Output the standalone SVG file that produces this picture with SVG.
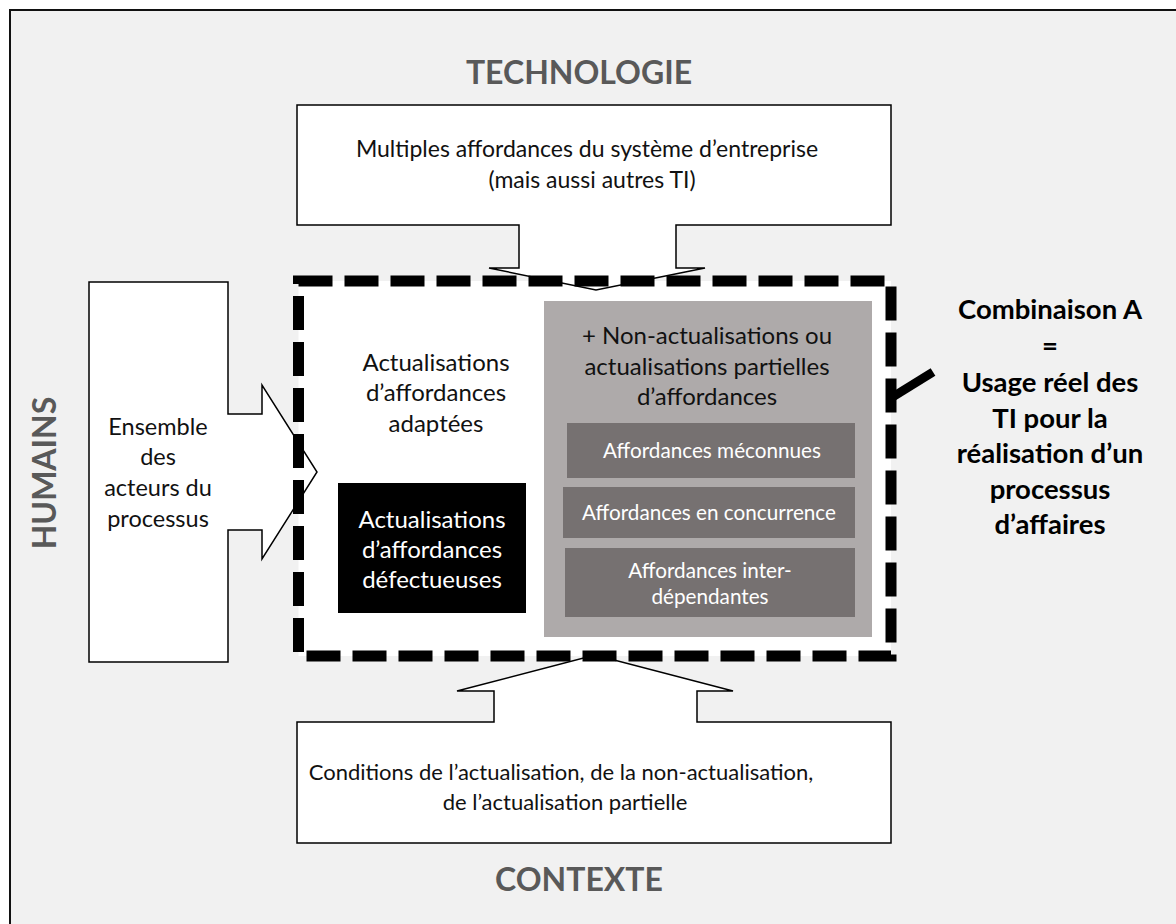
<svg xmlns="http://www.w3.org/2000/svg" width="1176" height="924" viewBox="0 0 1176 924">
<style>
.t{font-family:Lato,"Open Sans","Liberation Sans",sans-serif;font-size:23.5px;fill:#111;text-anchor:middle}
.w{font-family:Lato,"Open Sans","Liberation Sans",sans-serif;font-size:20.7px;fill:#fff;text-anchor:middle}
.wb{font-family:Lato,"Open Sans","Liberation Sans",sans-serif;font-size:24px;fill:#fff;text-anchor:middle}
.h{font-family:Lato,"Open Sans","Liberation Sans",sans-serif;font-size:32px;font-weight:bold;fill:#595959;text-anchor:middle}
.c{font-family:Lato,"Open Sans","Liberation Sans",sans-serif;font-size:27.5px;font-weight:bold;fill:#000;text-anchor:middle}
.arrow{fill:#fff;stroke:#000;stroke-width:1.5}
</style>
<rect x="0" y="0" width="1176" height="924" fill="#fff"/>
<rect x="10" y="10" width="1180" height="930" fill="#f1f1f1" stroke="#111" stroke-width="2"/>

<g id="tech-title"><text class="h" x="579" y="84">TECHNOLOGIE</text></g>
<g id="context-title"><text class="h" x="579" y="891">CONTEXTE</text></g>
<g id="humains-title"><text class="h" transform="translate(56,473) rotate(-90)" x="0" y="0">HUMAINS</text></g>

<g id="combination-area">
<rect x="298.5" y="281" width="592.5" height="375" fill="#fff"/>
</g>

<g id="technologie">
<path class="arrow" d="M297,105 H891 V225 H676 V268 H705 L596,290 L489,268 H519 V225 H297 Z"/>
<text class="t" x="587" y="157" style="font-size:23px">Multiples affordances du système d’entreprise</text>
<text class="t" x="592" y="188" style="font-size:23px">(mais aussi autres TI)</text>
</g>

<g id="contexte">
<path class="arrow" d="M297,722 H494 V691 H457 L595,655 L733,691 H697 V722 H891 V843 H297 Z"/>
<text class="t" x="561" y="780" style="font-size:22px">Conditions de l’actualisation, de la non-actualisation,</text>
<text class="t" x="565" y="810" style="font-size:22px">de l’actualisation partielle</text>
</g>

<g id="humains">
<path class="arrow" d="M89,282 H228 V414 H262 V385 L317,472 L262,559 V530 H228 V662 H89 Z"/>
<text class="t" x="158" y="435">Ensemble</text>
<text class="t" x="158" y="465">des</text>
<text class="t" x="158" y="496">acteurs du</text>
<text class="t" x="158" y="527">processus</text>
</g>

<g id="connectors">
<rect x="298.5" y="281" width="592.5" height="375" fill="none" stroke="#000" stroke-width="11" stroke-dasharray="34 12"/>
<line x1="891" y1="398" x2="933" y2="372" stroke="#000" stroke-width="9"/>
</g>

<g id="adaptees">
<text class="t" x="436" y="371" style="font-size:24px">Actualisations</text>
<text class="t" x="436" y="401" style="font-size:24px">d’affordances</text>
<text class="t" x="436" y="432" style="font-size:24px">adaptées</text>
</g>

<g id="defectueuses">
<rect x="338" y="483" width="188" height="130" fill="#000"/>
<text class="wb" x="432" y="528">Actualisations</text>
<text class="wb" x="432" y="558">d’affordances</text>
<text class="wb" x="432" y="588">défectueuses</text>
</g>

<g id="non-actualisations">
<rect x="544" y="301" width="328" height="336" fill="#aeaaaa"/>
<text class="t" x="707" y="344" style="font-size:24px">+ Non-actualisations ou</text>
<text class="t" x="707" y="375" style="font-size:24px">actualisations partielles</text>
<text class="t" x="707" y="405" style="font-size:24px">d’affordances</text>
</g>

<g id="meconnues">
<rect x="567" y="423" width="288" height="55" fill="#767171"/>
<text class="w" x="712" y="458">Affordances méconnues</text>
</g>
<g id="concurrence">
<rect x="563" y="487" width="292" height="51" fill="#767171"/>
<text class="w" x="709" y="520">Affordances en concurrence</text>
</g>
<g id="interdependantes">
<rect x="565" y="548" width="290" height="69" fill="#767171"/>
<text class="w" x="710" y="578">Affordances inter-</text>
<text class="w" x="710" y="604">dépendantes</text>
</g>

<g id="combinaison-a">
<text class="c" x="1050" y="319">Combinaison A</text>
<text class="c" x="1050" y="355">=</text>
<text class="c" x="1050" y="392">Usage réel des</text>
<text class="c" x="1050" y="428">TI pour la</text>
<text class="c" x="1050" y="463">réalisation d’un</text>
<text class="c" x="1050" y="499">processus</text>
<text class="c" x="1050" y="534">d’affaires</text>
</g>
</svg>
